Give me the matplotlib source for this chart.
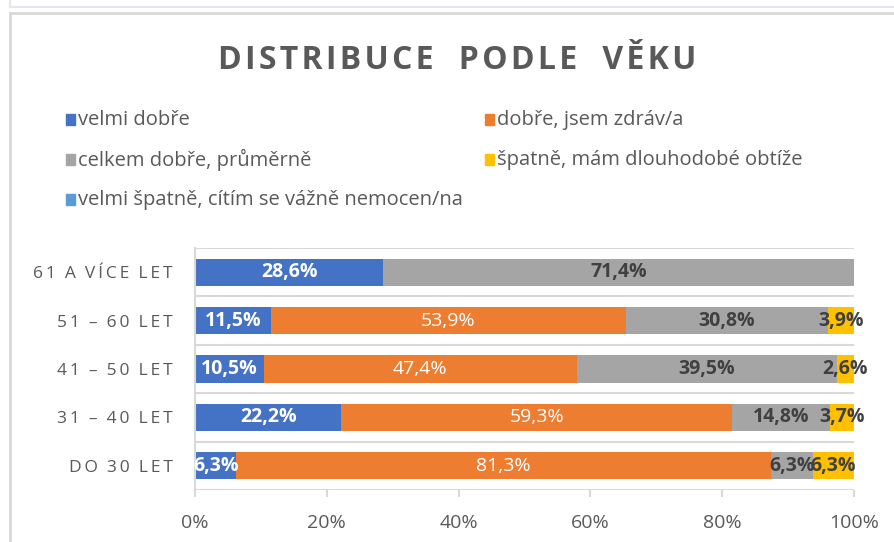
import numpy as np
import matplotlib.pyplot as plt
from matplotlib.lines import Line2D
from matplotlib.patches import Rectangle

plt.rcParams['font.family'] = ['Open Sans', 'DejaVu Sans']

# data (bottom row first)
categories = ['DO 30 LET', '31 – 40 LET', '41 – 50 LET', '51 – 60 LET', '61 A VÍCE LET']
series = ['velmi dobře', 'dobře, jsem zdráv/a', 'celkem dobře, průměrně',
          'špatně, mám dlouhodobé obtíže', 'velmi špatně, cítím se vážně nemocen/na']
velmi_dobre = [6.3, 22.2, 10.5, 11.5, 28.6]
dobre = [81.3, 59.3, 47.4, 53.9, 0.0]
celkem_dobre = [6.3, 14.8, 39.5, 30.8, 71.4]
spatne = [6.3, 3.7, 2.6, 3.9, 0.0]
velmi_spatne = [0.0, 0.0, 0.0, 0.0, 0.0]
xticks = [0, 20, 40, 60, 80, 100]

colors = ['#4472C4', '#ED7D31', '#A5A5A5', '#FFC000', '#5B9BD5']
lab_colors = ['white', 'white', '#404040', '#404040', 'white']
lab_weights = ['bold', 'normal', 'bold', 'bold', 'bold']
txt = '#595959'
grid = '#D9D9D9'


def track(s, sep='\u2009', gap='   '):
    # fake letter spacing
    return gap.join(sep.join(w) for w in s.split(' '))


data = np.array([velmi_dobre, dobre, celkem_dobre, spatne, velmi_spatne])
shares = data / data.sum(axis=0) * 100

fig = plt.figure(figsize=(8.94, 5.42), dpi=100)
ax = fig.add_axes([0.2181, 0.0959, 0.7372, 0.4465])

y = np.arange(len(categories))
left = np.zeros(len(categories))
for i in range(len(series)):
    ax.barh(y, shares[i], left=left, height=0.56, color=colors[i], zorder=2)
    for j in range(len(categories)):
        if data[i, j] > 0:
            ax.text(left[j] + shares[i, j] / 2, y[j], f'{data[i, j]:.1f}%'.replace('.', ','),
                    ha='center', va='center', color=lab_colors[i],
                    fontweight=lab_weights[i], fontsize=14, zorder=3)
    left += shares[i]

ax.set_xlim(0, 100)
ax.set_ylim(-0.5, len(categories) - 0.5)
for b in np.arange(-0.5, len(categories), 1):
    ax.axhline(b, color=grid, lw=1.5, zorder=1)

for s in ['top', 'right', 'bottom']:
    ax.spines[s].set_visible(False)
ax.spines['left'].set_color(grid)
ax.spines['left'].set_linewidth(1.5)

ax.set_xticks(xticks)
ax.set_xticklabels([f'{t}%' for t in xticks], color=txt, fontsize=14)
ax.tick_params(axis='x', length=5, width=1.5, color=grid, pad=12)
ax.set_yticks(y)
ax.set_yticklabels([track(c, '\u2009', '  ') for c in categories], color=txt, fontsize=12.5)
ax.tick_params(axis='y', length=0, pad=16)

fig.text(0.511, 1 - 69 / 542, track('DISTRIBUCE PODLE VĚKU', '\u200a', '   '),
         ha='center', va='baseline', fontsize=23, fontweight='bold', color=txt)

# legend, row-wise in two columns
leg_pos = [(66, 120), (485, 120), (66, 160), (485, 160), (66, 200)]
W, H = 894, 542
for (px, py), name, c in zip(leg_pos, series, colors):
    fig.patches.append(Rectangle((px / W, 1 - (py + 5) / H), 9 / W, 11 / H,
                                 transform=fig.transFigure, color=c))
    fig.text((px + 12) / W, 1 - py / H, name, ha='left', va='center',
             fontsize=14.5, color=txt)

# frame lines
fig.add_artist(Line2D([10 / W, 1], [1 - 6.5 / H] * 2, color='#E2E7EF', lw=1.5))
fig.add_artist(Line2D([10 / W] * 2, [1, 1 - 6.5 / H], color='#E2E7EF', lw=1.5))
fig.add_artist(Line2D([10 / W, 1], [1 - 13 / H] * 2, color=grid, lw=2))
fig.add_artist(Line2D([10 / W] * 2, [0, 1 - 13 / H], color=grid, lw=2))

fig.savefig('out.png', dpi=100)
